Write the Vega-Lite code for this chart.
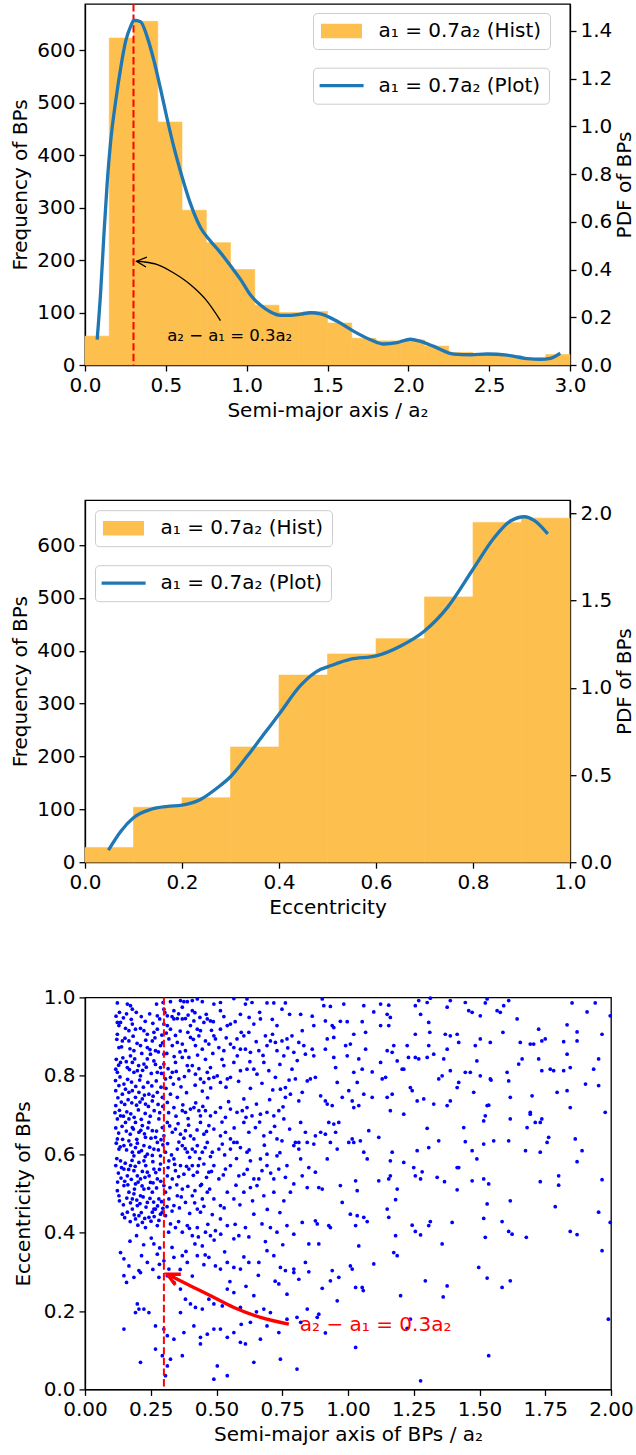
{
"$schema":"https://vega.github.io/schema/vega-lite/v6.json",
"background":"white",
"padding":{"left":10,"top":2,"right":0,"bottom":0},
"config":{
 "font":"DejaVu Sans",
 "view":{"stroke":"#000000","strokeWidth":1.3},
 "axis":{"labelFont":"DejaVu Sans","labelFontSize":20,"labelColor":"#000000","titleFont":"DejaVu Sans","titleFontSize":20,"titleFontWeight":"normal","titleColor":"#000000","domainColor":"#000000","domainWidth":1.3,"tickColor":"#000000","tickWidth":1.3,"tickSize":6,"labelPadding":4,"grid":false,"labelFlush":false,"labelOverlap":false},
 "axisX":{"titlePadding":5},
 "axisY":{"titlePadding":6},
 "legend":{"labelFont":"DejaVu Sans","labelFontSize":20,"labelColor":"#000000","padding":8,"strokeColor":"#cccccc","cornerRadius":4,"fillColor":"rgba(255,255,255,0.8)","labelLimit":400}
},
"datasets":{
 "hist1":[{"x0":0,"x1":0.15,"n":55},{"x0":0.15,"x1":0.3,"n":623},{"x0":0.3,"x1":0.45,"n":655},{"x0":0.45,"x1":0.6,"n":463},{"x0":0.6,"x1":0.75,"n":295},{"x0":0.75,"x1":0.9,"n":233},{"x0":0.9,"x1":1.05,"n":182},{"x0":1.05,"x1":1.2,"n":114},{"x0":1.2,"x1":1.35,"n":100},{"x0":1.35,"x1":1.5,"n":102},{"x0":1.5,"x1":1.65,"n":80},{"x0":1.65,"x1":1.8,"n":51},{"x0":1.8,"x1":1.95,"n":46},{"x0":1.95,"x1":2.1,"n":48},{"x0":2.1,"x1":2.25,"n":36},{"x0":2.25,"x1":2.4,"n":24},{"x0":2.4,"x1":2.55,"n":22},{"x0":2.55,"x1":2.7,"n":18},{"x0":2.7,"x1":2.85,"n":13},{"x0":2.85,"x1":3.0,"n":20}],
 "pdf1":[{"x":0.076,"p":0.113},{"x":0.097,"p":0.308},{"x":0.117,"p":0.546},{"x":0.138,"p":0.771},{"x":0.159,"p":0.939},{"x":0.19,"p":1.107},{"x":0.221,"p":1.246},{"x":0.252,"p":1.358},{"x":0.283,"p":1.42},{"x":0.303,"p":1.445},{"x":0.344,"p":1.439},{"x":0.386,"p":1.372},{"x":0.427,"p":1.274},{"x":0.468,"p":1.155},{"x":0.509,"p":1.029},{"x":0.551,"p":0.91},{"x":0.602,"p":0.785},{"x":0.654,"p":0.673},{"x":0.715,"p":0.575},{"x":0.777,"p":0.519},{"x":0.839,"p":0.47},{"x":0.901,"p":0.415},{"x":0.963,"p":0.358},{"x":1.025,"p":0.292},{"x":1.087,"p":0.25},{"x":1.148,"p":0.222},{"x":1.21,"p":0.208},{"x":1.272,"p":0.208},{"x":1.334,"p":0.213},{"x":1.396,"p":0.219},{"x":1.457,"p":0.214},{"x":1.56,"p":0.183},{"x":1.663,"p":0.141},{"x":1.766,"p":0.106},{"x":1.848,"p":0.088},{"x":1.931,"p":0.094},{"x":2.013,"p":0.108},{"x":2.075,"p":0.099},{"x":2.158,"p":0.078},{"x":2.281,"p":0.046},{"x":2.385,"p":0.043},{"x":2.488,"p":0.046},{"x":2.612,"p":0.041},{"x":2.735,"p":0.027},{"x":2.817,"p":0.024},{"x":2.879,"p":0.028},{"x":2.931,"p":0.046}],
 "vline1":[{"x":0.3}],
 "arrow1":[{"x":0.838,"y":84.7},{"x":0.756,"y":121.4},{"x":0.653,"y":153},{"x":0.549,"y":175.4},{"x":0.447,"y":191.4},{"x":0.364,"y":196.4},{"x":0.319,"y":197.7}],
 "head1":[{"x":0.319,"y":197.7}],
 "text1":[{"x":0.895,"y":56,"t":"a₂ − a₁ = 0.3a₂"}],
 "hist2":[{"x0":0,"x1":0.1,"n":28},{"x0":0.1,"x1":0.2,"n":104},{"x0":0.2,"x1":0.3,"n":122},{"x0":0.3,"x1":0.4,"n":218},{"x0":0.4,"x1":0.5,"n":354},{"x0":0.5,"x1":0.6,"n":394},{"x0":0.6,"x1":0.7,"n":423},{"x0":0.7,"x1":0.8,"n":502},{"x0":0.8,"x1":0.9,"n":643},{"x0":0.9,"x1":1.0,"n":651}],
 "pdf2":[{"x":0.05,"p":0.077},{"x":0.074,"p":0.178},{"x":0.1,"p":0.255},{"x":0.135,"p":0.302},{"x":0.17,"p":0.32},{"x":0.2,"p":0.327},{"x":0.238,"p":0.36},{"x":0.273,"p":0.427},{"x":0.3,"p":0.49},{"x":0.335,"p":0.61},{"x":0.369,"p":0.735},{"x":0.4,"p":0.848},{"x":0.445,"p":1.015},{"x":0.486,"p":1.106},{"x":0.5,"p":1.12},{"x":0.548,"p":1.164},{"x":0.6,"p":1.183},{"x":0.651,"p":1.24},{"x":0.7,"p":1.326},{"x":0.747,"p":1.46},{"x":0.8,"p":1.68},{"x":0.844,"p":1.862},{"x":0.878,"p":1.958},{"x":0.906,"p":1.981},{"x":0.926,"p":1.96},{"x":0.952,"p":1.89}],
 "vline3":[{"x":0.3}],
 "arrow3":[{"x":0.775,"y":0.1666},{"x":0.6675,"y":0.1837},{"x":0.566,"y":0.209},{"x":0.4776,"y":0.2388},{"x":0.4016,"y":0.264},{"x":0.351,"y":0.281},{"x":0.313,"y":0.294}],
 "head3":[{"x":0.313,"y":0.294}],
 "text3":[{"x":1.105,"y":0.165,"t":"a₂ − a₁ = 0.3a₂"}],
 "scatter":[
{"a":0.123,"e":0.986},{"a":0.161,"e":0.983},{"a":0.173,"e":0.979},{"a":0.18,"e":0.97},{"a":0.272,"e":0.983},{"a":0.297,"e":0.987},{"a":0.3,"e":0.97},{"a":0.325,"e":0.989},{"a":0.363,"e":0.992},{"a":0.376,"e":0.989},{"a":0.389,"e":0.989},{"a":0.408,"e":0.992},{"a":0.427,"e":0.996},{"a":0.446,"e":0.989},{"a":0.49,"e":0.983},{"a":0.515,"e":0.987},{"a":0.566,"e":0.997},{"a":0.616,"e":0.996},{"a":0.61,"e":0.983},{"a":0.635,"e":0.987},{"a":0.692,"e":0.986},{"a":0.718,"e":0.986},{"a":0.762,"e":0.986},{"a":0.749,"e":0.97},{"a":0.591,"e":0.957},{"a":0.515,"e":0.966},{"a":0.477,"e":0.94},{"a":0.408,"e":0.966},{"a":0.37,"e":0.975},{"a":0.338,"e":0.966},{"a":0.313,"e":0.953},{"a":0.275,"e":0.953},
{"a":0.123,"e":0.936},{"a":0.129,"e":0.928},{"a":0.135,"e":0.936},{"a":0.154,"e":0.921},{"a":0.167,"e":0.915},{"a":0.18,"e":0.932},{"a":0.192,"e":0.919},{"a":0.211,"e":0.921},{"a":0.224,"e":0.915},{"a":0.237,"e":0.906},{"a":0.262,"e":0.911},{"a":0.275,"e":0.919},{"a":0.3,"e":0.932},{"a":0.313,"e":0.928},{"a":0.325,"e":0.919},{"a":0.338,"e":0.945},{"a":0.351,"e":0.946},{"a":0.37,"e":0.945},{"a":0.382,"e":0.946},{"a":0.401,"e":0.928},{"a":0.414,"e":0.94},{"a":0.427,"e":0.919},{"a":0.439,"e":0.915},{"a":0.452,"e":0.936},{"a":0.465,"e":0.945},{"a":0.49,"e":0.902},{"a":0.515,"e":0.919},{"a":0.541,"e":0.928},{"a":0.553,"e":0.932},{"a":0.578,"e":0.894},{"a":0.604,"e":0.902},{"a":0.623,"e":0.911},{"a":0.642,"e":0.932},{"a":0.667,"e":0.945},{"a":0.686,"e":0.902},{"a":0.705,"e":0.889},{"a":0.724,"e":0.885},{"a":0.73,"e":0.928},{"a":0.749,"e":0.889},{"a":0.768,"e":0.894},{"a":0.787,"e":0.902},{"a":0.813,"e":0.885},
{"a":0.123,"e":0.906},{"a":0.129,"e":0.872},{"a":0.142,"e":0.889},{"a":0.167,"e":0.889},{"a":0.186,"e":0.864},{"a":0.211,"e":0.877},{"a":0.237,"e":0.872},{"a":0.256,"e":0.889},{"a":0.268,"e":0.864},{"a":0.287,"e":0.877},{"a":0.3,"e":0.855},{"a":0.319,"e":0.894},{"a":0.332,"e":0.877},{"a":0.351,"e":0.885},{"a":0.37,"e":0.881},{"a":0.382,"e":0.864},{"a":0.401,"e":0.898},{"a":0.42,"e":0.877},{"a":0.446,"e":0.868},{"a":0.471,"e":0.881},{"a":0.496,"e":0.894},{"a":0.509,"e":0.872},{"a":0.528,"e":0.864},{"a":0.553,"e":0.881},{"a":0.566,"e":0.872},{"a":0.591,"e":0.868},{"a":0.61,"e":0.868},{"a":0.629,"e":0.86},{"a":0.661,"e":0.864},{"a":0.692,"e":0.877},{"a":0.73,"e":0.864},{"a":0.756,"e":0.851},{"a":0.794,"e":0.86},
{"a":0.117,"e":0.817},{"a":0.123,"e":0.809},{"a":0.135,"e":0.834},{"a":0.161,"e":0.821},{"a":0.173,"e":0.851},{"a":0.18,"e":0.834},{"a":0.186,"e":0.809},{"a":0.199,"e":0.813},{"a":0.211,"e":0.8},{"a":0.224,"e":0.83},{"a":0.237,"e":0.843},{"a":0.249,"e":0.855},{"a":0.262,"e":0.838},{"a":0.275,"e":0.809},{"a":0.287,"e":0.821},{"a":0.3,"e":0.83},{"a":0.306,"e":0.792},{"a":0.325,"e":0.796},{"a":0.332,"e":0.809},{"a":0.344,"e":0.834},{"a":0.357,"e":0.792},{"a":0.37,"e":0.847},{"a":0.389,"e":0.826},{"a":0.395,"e":0.813},{"a":0.42,"e":0.804},{"a":0.439,"e":0.792},{"a":0.452,"e":0.783},{"a":0.465,"e":0.809},{"a":0.477,"e":0.821},{"a":0.49,"e":0.796},{"a":0.503,"e":0.8},{"a":0.515,"e":0.783},{"a":0.528,"e":0.826},{"a":0.541,"e":0.792},{"a":0.553,"e":0.796},{"a":0.566,"e":0.834},{"a":0.591,"e":0.813},{"a":0.616,"e":0.817},{"a":0.642,"e":0.817},{"a":0.654,"e":0.804},{"a":0.68,"e":0.834},{"a":0.699,"e":0.813},{"a":0.724,"e":0.796},{"a":0.743,"e":0.766},{"a":0.762,"e":0.77},{"a":0.787,"e":0.817},{"a":0.8,"e":0.792},
{"a":0.117,"e":0.762},{"a":0.129,"e":0.775},{"a":0.142,"e":0.753},{"a":0.154,"e":0.766},{"a":0.167,"e":0.758},{"a":0.18,"e":0.762},{"a":0.192,"e":0.745},{"a":0.205,"e":0.758},{"a":0.218,"e":0.741},{"a":0.23,"e":0.728},{"a":0.243,"e":0.753},{"a":0.256,"e":0.736},{"a":0.275,"e":0.758},{"a":0.294,"e":0.745},{"a":0.313,"e":0.732},{"a":0.325,"e":0.753},{"a":0.338,"e":0.719},{"a":0.351,"e":0.745},{"a":0.37,"e":0.711},{"a":0.382,"e":0.707},{"a":0.401,"e":0.715},{"a":0.414,"e":0.719},{"a":0.433,"e":0.711},{"a":0.439,"e":0.698},{"a":0.458,"e":0.711},{"a":0.477,"e":0.698},{"a":0.496,"e":0.707},{"a":0.515,"e":0.719},{"a":0.534,"e":0.694},{"a":0.553,"e":0.715},{"a":0.578,"e":0.707},{"a":0.598,"e":0.711},{"a":0.616,"e":0.719},{"a":0.635,"e":0.698},{"a":0.667,"e":0.702},{"a":0.692,"e":0.707},{"a":0.718,"e":0.698},{"a":0.737,"e":0.711},{"a":0.762,"e":0.745},{"a":0.781,"e":0.753},{"a":0.813,"e":0.736},
{"a":0.117,"e":0.724},{"a":0.123,"e":0.69},{"a":0.135,"e":0.698},{"a":0.154,"e":0.681},{"a":0.167,"e":0.69},{"a":0.18,"e":0.668},{"a":0.192,"e":0.681},{"a":0.205,"e":0.656},{"a":0.218,"e":0.673},{"a":0.23,"e":0.643},{"a":0.243,"e":0.681},{"a":0.256,"e":0.66},{"a":0.268,"e":0.643},{"a":0.281,"e":0.69},{"a":0.294,"e":0.668},{"a":0.3,"e":0.647},{"a":0.313,"e":0.681},{"a":0.332,"e":0.656},{"a":0.344,"e":0.664},{"a":0.363,"e":0.651},{"a":0.382,"e":0.66},{"a":0.401,"e":0.647},{"a":0.414,"e":0.639},{"a":0.439,"e":0.681},{"a":0.452,"e":0.651},{"a":0.471,"e":0.673},{"a":0.49,"e":0.664},{"a":0.515,"e":0.647},{"a":0.534,"e":0.656},{"a":0.553,"e":0.639},{"a":0.578,"e":0.63},{"a":0.604,"e":0.681},{"a":0.623,"e":0.656},{"a":0.648,"e":0.668},{"a":0.68,"e":0.647},{"a":0.705,"e":0.656},{"a":0.73,"e":0.639},{"a":0.756,"e":0.69},{"a":0.794,"e":0.622},{"a":0.813,"e":0.63},
{"a":0.123,"e":0.639},{"a":0.129,"e":0.613},{"a":0.148,"e":0.622},{"a":0.167,"e":0.634},{"a":0.18,"e":0.605},{"a":0.192,"e":0.617},{"a":0.205,"e":0.605},{"a":0.224,"e":0.622},{"a":0.237,"e":0.6},{"a":0.262,"e":0.613},{"a":0.275,"e":0.63},{"a":0.287,"e":0.596},{"a":0.306,"e":0.605},{"a":0.319,"e":0.583},{"a":0.338,"e":0.588},{"a":0.351,"e":0.613},{"a":0.37,"e":0.622},{"a":0.389,"e":0.605},{"a":0.408,"e":0.613},{"a":0.427,"e":0.622},{"a":0.446,"e":0.605},{"a":0.465,"e":0.63},{"a":0.484,"e":0.605},{"a":0.509,"e":0.613},{"a":0.522,"e":0.626},{"a":0.553,"e":0.613},{"a":0.566,"e":0.63},{"a":0.591,"e":0.617},{"a":0.616,"e":0.605},{"a":0.667,"e":0.588},{"a":0.692,"e":0.6},{"a":0.73,"e":0.596},{"a":0.749,"e":0.634},{"a":0.8,"e":0.63},{"a":0.813,"e":0.613},
{"a":0.117,"e":0.571},{"a":0.135,"e":0.583},{"a":0.148,"e":0.562},{"a":0.161,"e":0.545},{"a":0.173,"e":0.571},{"a":0.186,"e":0.558},{"a":0.199,"e":0.545},{"a":0.211,"e":0.537},{"a":0.224,"e":0.583},{"a":0.237,"e":0.554},{"a":0.249,"e":0.528},{"a":0.262,"e":0.562},{"a":0.275,"e":0.537},{"a":0.287,"e":0.575},{"a":0.3,"e":0.52},{"a":0.313,"e":0.545},{"a":0.332,"e":0.537},{"a":0.344,"e":0.558},{"a":0.363,"e":0.571},{"a":0.376,"e":0.549},{"a":0.395,"e":0.562},{"a":0.408,"e":0.571},{"a":0.427,"e":0.554},{"a":0.439,"e":0.52},{"a":0.452,"e":0.575},{"a":0.471,"e":0.554},{"a":0.49,"e":0.571},{"a":0.509,"e":0.537},{"a":0.534,"e":0.562},{"a":0.553,"e":0.571},{"a":0.585,"e":0.545},{"a":0.604,"e":0.549},{"a":0.629,"e":0.583},{"a":0.642,"e":0.537},{"a":0.673,"e":0.558},{"a":0.692,"e":0.571},{"a":0.718,"e":0.537},{"a":0.737,"e":0.562},{"a":0.768,"e":0.571},{"a":0.794,"e":0.524},
{"a":0.123,"e":0.507},{"a":0.129,"e":0.494},{"a":0.148,"e":0.52},{"a":0.167,"e":0.503},{"a":0.18,"e":0.486},{"a":0.192,"e":0.524},{"a":0.199,"e":0.469},{"a":0.211,"e":0.494},{"a":0.224,"e":0.511},{"a":0.237,"e":0.477},{"a":0.256,"e":0.503},{"a":0.262,"e":0.46},{"a":0.281,"e":0.486},{"a":0.294,"e":0.452},{"a":0.306,"e":0.503},{"a":0.319,"e":0.486},{"a":0.338,"e":0.469},{"a":0.351,"e":0.494},{"a":0.37,"e":0.511},{"a":0.382,"e":0.477},{"a":0.408,"e":0.494},{"a":0.427,"e":0.46},{"a":0.446,"e":0.486},{"a":0.465,"e":0.503},{"a":0.49,"e":0.486},{"a":0.515,"e":0.469},{"a":0.541,"e":0.503},{"a":0.566,"e":0.486},{"a":0.604,"e":0.503},{"a":0.629,"e":0.515},{"a":0.654,"e":0.52},{"a":0.68,"e":0.494},{"a":0.718,"e":0.503},{"a":0.756,"e":0.481},{"a":0.781,"e":0.503},
{"a":0.142,"e":0.447},{"a":0.161,"e":0.452},{"a":0.18,"e":0.46},{"a":0.192,"e":0.435},{"a":0.205,"e":0.443},{"a":0.218,"e":0.426},{"a":0.23,"e":0.413},{"a":0.243,"e":0.439},{"a":0.256,"e":0.452},{"a":0.268,"e":0.46},{"a":0.275,"e":0.418},{"a":0.287,"e":0.447},{"a":0.306,"e":0.443},{"a":0.325,"e":0.422},{"a":0.344,"e":0.413},{"a":0.37,"e":0.401},{"a":0.389,"e":0.418},{"a":0.408,"e":0.392},{"a":0.427,"e":0.413},{"a":0.439,"e":0.452},{"a":0.458,"e":0.401},{"a":0.477,"e":0.392},{"a":0.496,"e":0.405},{"a":0.515,"e":0.435},{"a":0.541,"e":0.418},{"a":0.566,"e":0.384},{"a":0.585,"e":0.392},{"a":0.61,"e":0.413},{"a":0.642,"e":0.447},{"a":0.673,"e":0.422},{"a":0.705,"e":0.413},{"a":0.73,"e":0.401},{"a":0.768,"e":0.418},{"a":0.794,"e":0.396},
{"a":0.135,"e":0.349},{"a":0.167,"e":0.315},{"a":0.205,"e":0.303},{"a":0.237,"e":0.324},{"a":0.262,"e":0.371},{"a":0.275,"e":0.345},{"a":0.3,"e":0.328},{"a":0.319,"e":0.307},{"a":0.338,"e":0.337},{"a":0.37,"e":0.341},{"a":0.389,"e":0.324},{"a":0.427,"e":0.341},{"a":0.446,"e":0.366},{"a":0.471,"e":0.337},{"a":0.496,"e":0.315},{"a":0.515,"e":0.307},{"a":0.541,"e":0.324},{"a":0.566,"e":0.311},{"a":0.591,"e":0.307},{"a":0.623,"e":0.324},{"a":0.661,"e":0.324},{"a":0.692,"e":0.354},{"a":0.718,"e":0.341},{"a":0.743,"e":0.311},{"a":0.762,"e":0.303},{"a":0.794,"e":0.298},
{"a":0.148,"e":0.29},{"a":0.158,"e":0.273},{"a":0.186,"e":0.286},{"a":0.211,"e":0.298},{"a":0.281,"e":0.286},{"a":0.313,"e":0.29},{"a":0.338,"e":0.273},{"a":0.363,"e":0.256},{"a":0.382,"e":0.23},{"a":0.401,"e":0.218},{"a":0.42,"e":0.209},{"a":0.446,"e":0.205},{"a":0.471,"e":0.23},{"a":0.49,"e":0.218},{"a":0.522,"e":0.213},{"a":0.541,"e":0.256},{"a":0.566,"e":0.247},{"a":0.591,"e":0.209},{"a":0.642,"e":0.239},{"a":0.68,"e":0.205},{"a":0.705,"e":0.196},{"a":0.737,"e":0.269},{"a":0.768,"e":0.243},{"a":0.794,"e":0.307},{"a":0.813,"e":0.281},
{"a":0.148,"e":0.154},{"a":0.199,"e":0.218},{"a":0.192,"e":0.196},{"a":0.205,"e":0.205},{"a":0.224,"e":0.205},{"a":0.243,"e":0.196},{"a":0.268,"e":0.162},{"a":0.3,"e":0.154},{"a":0.313,"e":0.137},{"a":0.338,"e":0.128},{"a":0.363,"e":0.196},{"a":0.376,"e":0.145},{"a":0.414,"e":0.162},{"a":0.439,"e":0.133},{"a":0.465,"e":0.141},{"a":0.49,"e":0.154},{"a":0.515,"e":0.154},{"a":0.541,"e":0.133},{"a":0.566,"e":0.145},{"a":0.591,"e":0.12},{"a":0.629,"e":0.171},{"a":0.667,"e":0.128},{"a":0.692,"e":0.162},{"a":0.737,"e":0.145},{"a":0.768,"e":0.179},{"a":0.806,"e":0.184},
{"a":0.211,"e":0.069},{"a":0.268,"e":0.103},{"a":0.294,"e":0.086},{"a":0.313,"e":0.06},{"a":0.325,"e":0.077},{"a":0.37,"e":0.086},{"a":0.439,"e":0.116},{"a":0.49,"e":0.026},{"a":0.503,"e":0.06},{"a":0.541,"e":0.035},{"a":0.61,"e":0.116},{"a":0.642,"e":0.069},{"a":0.743,"e":0.077},{"a":0.806,"e":0.052},{"a":0.306,"e":0.035},
{"a":0.118,"e":0.952},{"a":0.131,"e":0.962},{"a":0.146,"e":0.948},{"a":0.158,"e":0.958},{"a":0.176,"e":0.944},{"a":0.195,"e":0.962},{"a":0.214,"e":0.951},{"a":0.229,"e":0.939},{"a":0.246,"e":0.958},{"a":0.258,"e":0.934},{"a":0.284,"e":0.945},{"a":0.292,"e":0.904},
{"a":0.121,"e":0.893},{"a":0.139,"e":0.874},{"a":0.152,"e":0.896},{"a":0.171,"e":0.869},{"a":0.183,"e":0.901},{"a":0.198,"e":0.883},{"a":0.216,"e":0.857},{"a":0.231,"e":0.891},{"a":0.247,"e":0.867},{"a":0.266,"e":0.897},{"a":0.279,"e":0.861},{"a":0.295,"e":0.884},
{"a":0.119,"e":0.842},{"a":0.128,"e":0.827},{"a":0.144,"e":0.846},{"a":0.157,"e":0.836},{"a":0.169,"e":0.816},{"a":0.189,"e":0.843},{"a":0.204,"e":0.826},{"a":0.219,"e":0.814},{"a":0.233,"e":0.822},{"a":0.252,"e":0.806},{"a":0.268,"e":0.829},{"a":0.291,"e":0.806},
{"a":0.116,"e":0.788},{"a":0.133,"e":0.797},{"a":0.148,"e":0.779},{"a":0.162,"e":0.791},{"a":0.177,"e":0.784},{"a":0.193,"e":0.773},{"a":0.208,"e":0.789},{"a":0.222,"e":0.771},{"a":0.239,"e":0.783},{"a":0.254,"e":0.774},{"a":0.271,"e":0.787},{"a":0.289,"e":0.771},
{"a":0.125,"e":0.744},{"a":0.138,"e":0.733},{"a":0.151,"e":0.727},{"a":0.164,"e":0.739},{"a":0.178,"e":0.731},{"a":0.196,"e":0.725},{"a":0.209,"e":0.733},{"a":0.226,"e":0.751},{"a":0.241,"e":0.722},{"a":0.259,"e":0.748},{"a":0.278,"e":0.727},{"a":0.296,"e":0.722},
{"a":0.114,"e":0.706},{"a":0.131,"e":0.712},{"a":0.146,"e":0.697},{"a":0.159,"e":0.708},{"a":0.174,"e":0.703},{"a":0.187,"e":0.694},{"a":0.203,"e":0.713},{"a":0.214,"e":0.689},{"a":0.229,"e":0.704},{"a":0.248,"e":0.697},{"a":0.263,"e":0.711},{"a":0.284,"e":0.706},
{"a":0.117,"e":0.667},{"a":0.128,"e":0.654},{"a":0.141,"e":0.671},{"a":0.157,"e":0.659},{"a":0.172,"e":0.651},{"a":0.184,"e":0.664},{"a":0.197,"e":0.638},{"a":0.212,"e":0.661},{"a":0.226,"e":0.652},{"a":0.239,"e":0.667},{"a":0.251,"e":0.641},{"a":0.272,"e":0.659},{"a":0.289,"e":0.637},
{"a":0.119,"e":0.628},{"a":0.134,"e":0.619},{"a":0.143,"e":0.638},{"a":0.158,"e":0.611},{"a":0.174,"e":0.624},{"a":0.186,"e":0.596},{"a":0.199,"e":0.628},{"a":0.215,"e":0.609},{"a":0.229,"e":0.594},{"a":0.246,"e":0.618},{"a":0.256,"e":0.597},{"a":0.279,"e":0.611},{"a":0.296,"e":0.624},
{"a":0.121,"e":0.589},{"a":0.127,"e":0.552},{"a":0.139,"e":0.566},{"a":0.153,"e":0.577},{"a":0.166,"e":0.561},{"a":0.179,"e":0.584},{"a":0.191,"e":0.569},{"a":0.205,"e":0.579},{"a":0.218,"e":0.556},{"a":0.231,"e":0.571},{"a":0.244,"e":0.545},{"a":0.258,"e":0.581},{"a":0.269,"e":0.553},{"a":0.283,"e":0.561},
{"a":0.124,"e":0.529},{"a":0.137,"e":0.539},{"a":0.151,"e":0.531},{"a":0.163,"e":0.522},{"a":0.176,"e":0.536},{"a":0.188,"e":0.511},{"a":0.202,"e":0.529},{"a":0.217,"e":0.519},{"a":0.228,"e":0.541},{"a":0.242,"e":0.513},{"a":0.259,"e":0.527},{"a":0.272,"e":0.514},{"a":0.288,"e":0.531},
{"a":0.131,"e":0.481},{"a":0.146,"e":0.471},{"a":0.159,"e":0.488},{"a":0.173,"e":0.476},{"a":0.186,"e":0.499},{"a":0.197,"e":0.483},{"a":0.209,"e":0.474},{"a":0.221,"e":0.491},{"a":0.232,"e":0.465},{"a":0.247,"e":0.487},{"a":0.261,"e":0.478},{"a":0.276,"e":0.468},{"a":0.291,"e":0.479},
{"a":0.151,"e":0.438},{"a":0.172,"e":0.428},{"a":0.187,"e":0.445},{"a":0.201,"e":0.419},{"a":0.214,"e":0.451},{"a":0.227,"e":0.436},{"a":0.251,"e":0.429},{"a":0.263,"e":0.441},{"a":0.281,"e":0.431},{"a":0.296,"e":0.462},
{"a":0.171,"e":0.378},{"a":0.196,"e":0.392},{"a":0.223,"e":0.369},{"a":0.252,"e":0.386},{"a":0.284,"e":0.361},{"a":0.148,"e":0.333},{"a":0.215,"e":0.341},{"a":0.258,"e":0.306},{"a":0.283,"e":0.319},
{"a":0.304,"e":0.961},{"a":0.331,"e":0.951},{"a":0.356,"e":0.958},{"a":0.392,"e":0.955},{"a":0.418,"e":0.961},{"a":0.437,"e":0.949},{"a":0.461,"e":0.957},{"a":0.488,"e":0.938},
{"a":0.309,"e":0.909},{"a":0.344,"e":0.903},{"a":0.362,"e":0.914},{"a":0.391,"e":0.911},{"a":0.412,"e":0.893},{"a":0.433,"e":0.902},{"a":0.458,"e":0.889},{"a":0.481,"e":0.916},
{"a":0.311,"e":0.857},{"a":0.339,"e":0.849},{"a":0.361,"e":0.861},{"a":0.395,"e":0.847},{"a":0.428,"e":0.853},{"a":0.458,"e":0.842},{"a":0.486,"e":0.857},
{"a":0.316,"e":0.818},{"a":0.347,"e":0.811},{"a":0.378,"e":0.798},{"a":0.408,"e":0.826},{"a":0.433,"e":0.818},{"a":0.471,"e":0.793},
{"a":0.308,"e":0.768},{"a":0.336,"e":0.779},{"a":0.365,"e":0.772},{"a":0.386,"e":0.757},{"a":0.419,"e":0.776},{"a":0.446,"e":0.761},{"a":0.478,"e":0.769},
{"a":0.318,"e":0.706},{"a":0.346,"e":0.697},{"a":0.372,"e":0.726},{"a":0.392,"e":0.691},{"a":0.421,"e":0.731},{"a":0.448,"e":0.722},{"a":0.466,"e":0.744},
{"a":0.322,"e":0.672},{"a":0.354,"e":0.678},{"a":0.376,"e":0.641},{"a":0.394,"e":0.674},{"a":0.426,"e":0.662},{"a":0.462,"e":0.658},
{"a":0.314,"e":0.627},{"a":0.329,"e":0.598},{"a":0.357,"e":0.631},{"a":0.381,"e":0.614},{"a":0.398,"e":0.592},{"a":0.419,"e":0.606},{"a":0.436,"e":0.589},{"a":0.457,"e":0.617},{"a":0.477,"e":0.594},
{"a":0.316,"e":0.566},{"a":0.341,"e":0.574},{"a":0.356,"e":0.543},{"a":0.386,"e":0.569},{"a":0.412,"e":0.546},{"a":0.431,"e":0.571},{"a":0.462,"e":0.541},{"a":0.481,"e":0.556},
{"a":0.323,"e":0.515},{"a":0.349,"e":0.522},{"a":0.366,"e":0.491},{"a":0.391,"e":0.518},{"a":0.418,"e":0.507},{"a":0.443,"e":0.523},{"a":0.474,"e":0.511},
{"a":0.312,"e":0.466},{"a":0.331,"e":0.455},{"a":0.359,"e":0.463},{"a":0.398,"e":0.449},{"a":0.417,"e":0.476},{"a":0.452,"e":0.467},{"a":0.484,"e":0.446},
{"a":0.318,"e":0.401},{"a":0.356,"e":0.428},{"a":0.397,"e":0.411},{"a":0.431,"e":0.389},{"a":0.467,"e":0.421},{"a":0.491,"e":0.381},
{"a":0.331,"e":0.362},{"a":0.384,"e":0.352},{"a":0.418,"e":0.371},{"a":0.457,"e":0.343},{"a":0.362,"e":0.306},{"a":0.408,"e":0.289},{"a":0.452,"e":0.318},
{"a":0.528,"e":0.951},{"a":0.571,"e":0.938},{"a":0.624,"e":0.949},{"a":0.664,"e":0.962},{"a":0.712,"e":0.944},{"a":0.778,"e":0.957},
{"a":0.537,"e":0.897},{"a":0.594,"e":0.911},{"a":0.651,"e":0.887},{"a":0.713,"e":0.906},{"a":0.771,"e":0.871},
{"a":0.521,"e":0.842},{"a":0.579,"e":0.851},{"a":0.627,"e":0.836},{"a":0.677,"e":0.852},{"a":0.741,"e":0.829},{"a":0.807,"e":0.839},
{"a":0.536,"e":0.771},{"a":0.584,"e":0.786},{"a":0.629,"e":0.768},{"a":0.673,"e":0.781},{"a":0.714,"e":0.764},{"a":0.776,"e":0.789},
{"a":0.546,"e":0.734},{"a":0.604,"e":0.741},{"a":0.652,"e":0.728},{"a":0.702,"e":0.739},{"a":0.753,"e":0.721},
{"a":0.521,"e":0.682},{"a":0.567,"e":0.667},{"a":0.612,"e":0.694},{"a":0.664,"e":0.682},{"a":0.721,"e":0.671},{"a":0.778,"e":0.664},
{"a":0.531,"e":0.598},{"a":0.576,"e":0.589},{"a":0.624,"e":0.611},{"a":0.682,"e":0.623},{"a":0.741,"e":0.604},
{"a":0.526,"e":0.547},{"a":0.574,"e":0.521},{"a":0.617,"e":0.561},{"a":0.661,"e":0.537},{"a":0.706,"e":0.552},{"a":0.762,"e":0.541},
{"a":0.529,"e":0.463},{"a":0.589,"e":0.471},{"a":0.637,"e":0.481},{"a":0.693,"e":0.459},{"a":0.741,"e":0.451},
{"a":0.516,"e":0.396},{"a":0.571,"e":0.421},{"a":0.623,"e":0.389},{"a":0.686,"e":0.377},{"a":0.752,"e":0.369},
{"a":0.531,"e":0.351},{"a":0.604,"e":0.338},{"a":0.659,"e":0.291},{"a":0.723,"e":0.276},{"a":0.551,"e":0.275},{"a":0.612,"e":0.263},{"a":0.652,"e":0.198},{"a":0.594,"e":0.166},
{"a":0.902,"e":0.996},{"a":0.908,"e":0.979},{"a":0.933,"e":0.977},{"a":0.984,"e":0.983},{"a":1.06,"e":0.979},{"a":1.098,"e":0.963},{"a":1.124,"e":0.983},{"a":1.149,"e":0.957},{"a":1.155,"e":0.98},{"a":1.256,"e":0.979},{"a":1.269,"e":0.992},{"a":1.301,"e":0.987},{"a":1.313,"e":0.998},{"a":1.377,"e":0.975},{"a":1.389,"e":0.992},{"a":1.446,"e":0.987},{"a":1.459,"e":0.966},{"a":1.472,"e":0.962},{"a":1.503,"e":0.953},{"a":1.522,"e":0.986},{"a":1.529,"e":0.996},{"a":1.567,"e":0.966},{"a":1.579,"e":0.962},{"a":1.592,"e":0.979},{"a":1.611,"e":0.992},{"a":1.643,"e":0.945},{"a":1.852,"e":0.986},{"a":1.909,"e":0.963},{"a":1.94,"e":0.986},{"a":1.997,"e":0.953},{"a":0.82,"e":0.957},{"a":0.826,"e":0.915},{"a":0.864,"e":0.952},{"a":0.87,"e":0.928},{"a":0.914,"e":0.94},{"a":0.94,"e":0.928},{"a":0.946,"e":0.923},{"a":0.971,"e":0.939},{"a":0.997,"e":0.938},{"a":1.022,"e":0.906},{"a":1.054,"e":0.938},{"a":1.067,"e":0.911},{"a":1.124,"e":0.928},{"a":1.155,"e":0.928},{"a":1.161,"e":0.949},{"a":1.256,"e":0.906},{"a":1.276,"e":0.957},{"a":1.307,"e":0.936},{"a":1.311,"e":0.911},{"a":1.37,"e":0.906},{"a":1.389,"e":0.902},{"a":1.415,"e":0.906},{"a":1.503,"e":0.894},{"a":1.541,"e":0.885},{"a":1.589,"e":0.911},{"a":1.655,"e":0.885},{"a":1.693,"e":0.881},{"a":1.725,"e":0.919},{"a":1.737,"e":0.889},{"a":1.75,"e":0.894},{"a":1.82,"e":0.887},{"a":1.833,"e":0.93},{"a":1.871,"e":0.912},{"a":1.871,"e":0.889},{"a":1.966,"e":0.906},
{"a":0.832,"e":0.877},{"a":0.864,"e":0.868},{"a":0.87,"e":0.851},{"a":0.838,"e":0.855},{"a":0.914,"e":0.868},{"a":0.921,"e":0.894},{"a":0.946,"e":0.898},{"a":0.946,"e":0.847},{"a":0.953,"e":0.821},{"a":0.991,"e":0.877},{"a":0.997,"e":0.851},{"a":1.009,"e":0.881},{"a":1.022,"e":0.809},{"a":1.041,"e":0.843},{"a":1.054,"e":0.817},{"a":1.067,"e":0.868},{"a":1.092,"e":0.81},{"a":1.124,"e":0.834},{"a":1.149,"e":0.864},{"a":1.168,"e":0.86},{"a":1.174,"e":0.877},{"a":1.187,"e":0.838},{"a":1.212,"e":0.817},{"a":1.225,"e":0.877},{"a":1.23,"e":0.847},{"a":1.256,"e":0.847},{"a":1.269,"e":0.843},{"a":1.301,"e":0.847},{"a":1.307,"e":0.877},{"a":1.326,"e":0.855},{"a":1.364,"e":0.843},{"a":1.377,"e":0.868},{"a":1.389,"e":0.813},{"a":1.421,"e":0.885},{"a":1.446,"e":0.809},{"a":1.465,"e":0.809},{"a":1.484,"e":0.877},{"a":1.49,"e":0.838},{"a":1.503,"e":0.8},{"a":1.541,"e":0.792},{"a":1.605,"e":0.809},{"a":1.611,"e":0.787},{"a":1.649,"e":0.83},{"a":1.662,"e":0.843},{"a":1.706,"e":0.881},{"a":1.725,"e":0.843},{"a":1.737,"e":0.813},{"a":1.769,"e":0.817},{"a":1.782,"e":0.813},{"a":1.82,"e":0.813},{"a":1.833,"e":0.855},{"a":1.845,"e":0.821},{"a":1.934,"e":0.817},{"a":1.953,"e":0.843},
{"a":0.826,"e":0.758},{"a":0.857,"e":0.792},{"a":0.876,"e":0.796},{"a":0.845,"e":0.787},{"a":0.896,"e":0.749},{"a":0.914,"e":0.736},{"a":0.921,"e":0.728},{"a":0.94,"e":0.724},{"a":0.959,"e":0.783},{"a":0.978,"e":0.745},{"a":1.003,"e":0.762},{"a":1.016,"e":0.736},{"a":1.022,"e":0.719},{"a":1.035,"e":0.783},{"a":1.041,"e":0.724},{"a":1.06,"e":0.753},{"a":1.092,"e":0.745},{"a":1.13,"e":0.792},{"a":1.143,"e":0.796},{"a":1.149,"e":0.745},{"a":1.161,"e":0.711},{"a":1.168,"e":0.753},{"a":1.206,"e":0.817},{"a":1.212,"e":0.702},{"a":1.237,"e":0.77},{"a":1.244,"e":0.762},{"a":1.263,"e":0.736},{"a":1.288,"e":0.741},{"a":1.326,"e":0.728},{"a":1.345,"e":0.792},{"a":1.358,"e":0.8},{"a":1.377,"e":0.724},{"a":1.389,"e":0.736},{"a":1.415,"e":0.77},{"a":1.421,"e":0.783},{"a":1.478,"e":0.758},{"a":1.516,"e":0.685},{"a":1.522,"e":0.698},{"a":1.529,"e":0.724},{"a":1.535,"e":0.725},{"a":1.544,"e":0.789},{"a":1.617,"e":0.745},{"a":1.7,"e":0.749},{"a":1.693,"e":0.707},{"a":1.712,"e":0.681},{"a":1.737,"e":0.69},{"a":1.795,"e":0.758},{"a":1.833,"e":0.762},{"a":1.845,"e":0.719},{"a":1.903,"e":0.779},{"a":1.953,"e":0.775},{"a":1.978,"e":0.707},
{"a":0.82,"e":0.681},{"a":0.838,"e":0.656},{"a":0.845,"e":0.63},{"a":0.87,"e":0.626},{"a":0.876,"e":0.647},{"a":0.896,"e":0.656},{"a":0.914,"e":0.651},{"a":0.927,"e":0.681},{"a":0.946,"e":0.677},{"a":0.965,"e":0.681},{"a":0.953,"e":0.656},{"a":0.921,"e":0.588},{"a":0.933,"e":0.63},{"a":0.959,"e":0.613},{"a":1.003,"e":0.63},{"a":1.016,"e":0.639},{"a":1.022,"e":0.63},{"a":1.047,"e":0.634},{"a":1.06,"e":0.605},{"a":1.073,"e":0.588},{"a":1.079,"e":0.66},{"a":1.117,"e":0.643},{"a":1.168,"e":0.605},{"a":1.161,"e":0.583},{"a":1.212,"e":0.579},{"a":1.263,"e":0.609},{"a":1.301,"e":0.666},{"a":1.307,"e":0.617},{"a":1.345,"e":0.634},{"a":1.415,"e":0.566},{"a":1.44,"e":0.668},{"a":1.446,"e":0.632},{"a":1.472,"e":0.609},{"a":1.49,"e":0.588},{"a":1.516,"e":0.626},{"a":1.554,"e":0.634},{"a":1.611,"e":0.634},{"a":1.617,"e":0.69},{"a":1.675,"e":0.609},{"a":1.681,"e":0.668},{"a":1.693,"e":0.702},{"a":1.731,"e":0.605},{"a":1.731,"e":0.681},{"a":1.757,"e":0.63},{"a":1.763,"e":0.643},{"a":1.864,"e":0.639},{"a":1.89,"e":0.609},{"a":1.871,"e":0.581},{"a":0.82,"e":0.588},
{"a":0.826,"e":0.545},{"a":0.851,"e":0.566},{"a":0.876,"e":0.554},{"a":0.845,"e":0.515},{"a":0.889,"e":0.515},{"a":0.902,"e":0.511},{"a":0.971,"e":0.52},{"a":0.978,"e":0.477},{"a":1.029,"e":0.532},{"a":1.035,"e":0.507},{"a":1.117,"e":0.532},{"a":1.155,"e":0.537},{"a":1.161,"e":0.545},{"a":1.187,"e":0.511},{"a":1.181,"e":0.484},{"a":1.25,"e":0.566},{"a":1.256,"e":0.545},{"a":1.276,"e":0.537},{"a":1.282,"e":0.555},{"a":1.339,"e":0.541},{"a":1.367,"e":0.53},{"a":1.421,"e":0.566},{"a":1.415,"e":0.509},{"a":1.472,"e":0.532},{"a":1.516,"e":0.537},{"a":1.535,"e":0.524},{"a":1.529,"e":0.473},{"a":1.617,"e":0.481},{"a":1.731,"e":0.53},{"a":1.788,"e":0.466},{"a":1.801,"e":0.545},{"a":1.801,"e":0.521},{"a":1.966,"e":0.535},{"a":1.953,"e":0.452},
{"a":0.826,"e":0.426},{"a":0.851,"e":0.371},{"a":0.876,"e":0.43},{"a":0.883,"e":0.422},{"a":0.889,"e":0.371},{"a":0.927,"e":0.418},{"a":0.933,"e":0.413},{"a":1.009,"e":0.447},{"a":1.035,"e":0.443},{"a":1.029,"e":0.418},{"a":1.041,"e":0.366},{"a":1.06,"e":0.439},{"a":1.073,"e":0.428},{"a":1.149,"e":0.46},{"a":1.155,"e":0.439},{"a":1.181,"e":0.392},{"a":1.187,"e":0.341},{"a":1.174,"e":0.349},{"a":1.244,"e":0.419},{"a":1.256,"e":0.403},{"a":1.276,"e":0.394},{"a":1.307,"e":0.418},{"a":1.313,"e":0.428},{"a":1.358,"e":0.371},{"a":1.396,"e":0.426},{"a":1.516,"e":0.436},{"a":1.522,"e":0.388},{"a":1.586,"e":0.428},{"a":1.611,"e":0.403},{"a":1.624,"e":0.396},{"a":1.678,"e":0.388},{"a":1.845,"e":0.403},{"a":1.871,"e":0.395},{"a":1.966,"e":0.354},{"a":1.997,"e":0.426},{"a":0.838,"e":0.324},{"a":0.851,"e":0.3},{"a":0.94,"e":0.303},{"a":0.933,"e":0.277},{"a":0.965,"e":0.286},{"a":1.009,"e":0.315},{"a":1.016,"e":0.307},{"a":1.098,"e":0.32},{"a":1.294,"e":0.277},{"a":1.377,"e":0.264},{"a":1.362,"e":0.236},{"a":1.497,"e":0.311},{"a":1.529,"e":0.284},{"a":1.586,"e":0.26},{"a":1.617,"e":0.277},{"a":1.99,"e":0.179},
{"a":0.902,"e":0.258},{"a":0.959,"e":0.226},{"a":1.029,"e":0.26},{"a":1.054,"e":0.26},{"a":1.058,"e":0.252},{"a":1.2,"e":0.239},{"a":0.845,"e":0.205},{"a":0.889,"e":0.192},{"a":0.883,"e":0.184},{"a":0.914,"e":0.144},{"a":0.82,"e":0.171},{"a":1.029,"e":0.107},{"a":1.237,"e":0.179},{"a":1.225,"e":0.156},{"a":1.535,"e":0.086},{"a":1.276,"e":0.022}
 ]
},
"vconcat":[
  {"width":485,"height":361,
   "layer":[
    {"layer":[
     {"data":{"name":"hist1"},"mark":{"type":"bar","stroke":"#fdbf4e","strokeWidth":0.6},
      "encoding":{
       "x":{"field":"x0","type":"quantitative","scale":{"domain":[0,3],"nice":false,"zero":false},"axis":{"values":[0,0.5,1,1.5,2,2.5,3],"format":".1f"},"title":"Semi-major axis / a₂"},
       "x2":{"field":"x1"},
       "y":{"field":"n","type":"quantitative","scale":{"domain":[0,688],"nice":false},"axis":{"orient":"left","values":[0,100,200,300,400,500,600]},"title":"Frequency of BPs"},
       "y2":{"datum":0},
       "fill":{"datum":"a₁ = 0.7a₂ (Hist)","type":"nominal","scale":{"range":["#fdbf4e"]},
        "legend":{"orient":"none","legendX":228,"legendY":9,"title":null,"symbolType":"M-2.05,-0.72H2.05V0.72H-2.05Z","symbolSize":400,"symbolStrokeWidth":0,"symbolOffset":10.5,"labelOffset":27,"symbolOpacity":1}}
      }},
     {"data":{"name":"vline1"},"mark":{"type":"rule","color":"#ff0000","strokeWidth":2,"strokeDash":[7.4,3.2]},
      "encoding":{"x":{"field":"x","type":"quantitative","scale":{"domain":[0,3],"nice":false,"zero":false},"title":"Semi-major axis / a₂"}}},
     {"data":{"name":"arrow1"},"mark":{"type":"line","color":"#000000","strokeWidth":1.3,"interpolate":"monotone"},
      "encoding":{"x":{"field":"x","type":"quantitative","scale":{"domain":[0,3],"nice":false,"zero":false},"title":"Semi-major axis / a₂"},
                  "y":{"field":"y","type":"quantitative","scale":{"domain":[0,688],"nice":false},"title":"Frequency of BPs"}}},
     {"data":{"name":"head1"},"mark":{"type":"point","shape":"M1.1,-0.55L0,0L1.1,0.55","filled":false,"size":324,"angle":5,"color":"#000000","strokeWidth":1.3,"opacity":1},
      "encoding":{"x":{"field":"x","type":"quantitative","scale":{"domain":[0,3],"nice":false,"zero":false},"title":"Semi-major axis / a₂"},
                  "y":{"field":"y","type":"quantitative","scale":{"domain":[0,688],"nice":false},"title":"Frequency of BPs"}}},
     {"data":{"name":"text1"},"mark":{"type":"text","font":"DejaVu Sans","fontSize":16.5,"align":"center","baseline":"middle","color":"#000000"},
      "encoding":{"x":{"field":"x","type":"quantitative","scale":{"domain":[0,3],"nice":false,"zero":false},"title":"Semi-major axis / a₂"},
                  "y":{"field":"y","type":"quantitative","scale":{"domain":[0,688],"nice":false},"title":"Frequency of BPs"},
                  "text":{"field":"t"}}}
    ]},
    {"data":{"name":"pdf1"},"mark":{"type":"line","strokeWidth":3.3,"interpolate":"monotone","strokeCap":"square"},
     "encoding":{
      "x":{"field":"x","type":"quantitative","scale":{"domain":[0,3],"nice":false,"zero":false},"title":"Semi-major axis / a₂"},
      "y":{"field":"p","type":"quantitative","scale":{"domain":[0,1.513],"nice":false},"axis":{"orient":"right","values":[0,0.2,0.4,0.6,0.8,1,1.2,1.4],"format":".1f","titleAngle":270,"titleBaseline":"top","titlePadding":3},"title":"PDF of BPs"},
      "stroke":{"datum":"a₁ = 0.7a₂ (Plot)","type":"nominal","scale":{"range":["#1f77b4"]},
       "legend":{"orient":"none","legendX":228,"legendY":63.7,"title":null,"symbolType":"M-2.75,0H2.75","symbolSize":256,"symbolStrokeWidth":3.3,"symbolOffset":10.6,"labelOffset":27}}
     }}
   ],
   "resolve":{"scale":{"y":"independent"}}
  },
  {"width":485,"height":362,
   "layer":[
    {"data":{"name":"hist2"},"mark":{"type":"bar","stroke":"#fdbf4e","strokeWidth":0.6},
     "encoding":{
      "x":{"field":"x0","type":"quantitative","scale":{"domain":[0,1],"nice":false,"zero":false},"axis":{"values":[0,0.2,0.4,0.6,0.8,1],"format":".1f"},"title":"Eccentricity"},
      "x2":{"field":"x1"},
      "y":{"field":"n","type":"quantitative","scale":{"domain":[0,685],"nice":false},"axis":{"orient":"left","values":[0,100,200,300,400,500,600]},"title":"Frequency of BPs"},
      "y2":{"datum":0},
      "fill":{"datum":"a₁ = 0.7a₂ (Hist)","type":"nominal","scale":{"range":["#fdbf4e"]},
       "legend":{"orient":"none","legendX":10,"legendY":10,"title":null,"symbolType":"M-2.05,-0.72H2.05V0.72H-2.05Z","symbolSize":400,"symbolStrokeWidth":0,"symbolOffset":10.5,"labelOffset":27,"symbolOpacity":1}}
     }},
    {"data":{"name":"pdf2"},"mark":{"type":"line","strokeWidth":3.3,"interpolate":"monotone","strokeCap":"square"},
     "encoding":{
      "x":{"field":"x","type":"quantitative","scale":{"domain":[0,1],"nice":false,"zero":false},"title":"Eccentricity"},
      "y":{"field":"p","type":"quantitative","scale":{"domain":[0,2.076],"nice":false},"axis":{"orient":"right","values":[0,0.5,1,1.5,2],"format":".1f","titleAngle":270,"titleBaseline":"top","titlePadding":3},"title":"PDF of BPs"},
      "stroke":{"datum":"a₁ = 0.7a₂ (Plot)","type":"nominal","scale":{"range":["#1f77b4"]},
       "legend":{"orient":"none","legendX":10,"legendY":65,"title":null,"symbolType":"M-2.75,0H2.75","symbolSize":256,"symbolStrokeWidth":3.3,"symbolOffset":10.6,"labelOffset":27}}
     }}
   ],
   "resolve":{"scale":{"y":"independent"}}
  },
 {"width":526,"height":392,
  "layer":[
   {"data":{"name":"scatter"},"mark":{"type":"circle","size":14,"color":"#0000ff","opacity":1},
    "encoding":{
     "x":{"field":"a","type":"quantitative","scale":{"domain":[0,2],"nice":false,"zero":false},"axis":{"values":[0,0.25,0.5,0.75,1,1.25,1.5,1.75,2],"format":".2f"},"title":"Semi-major axis of BPs / a₂"},
     "y":{"field":"e","type":"quantitative","scale":{"domain":[0,1],"nice":false},"axis":{"values":[0,0.2,0.4,0.6,0.8,1],"format":".1f","titlePadding":10},"title":"Eccentricity of BPs"}
    }},
   {"data":{"name":"vline3"},"mark":{"type":"rule","color":"#ff0000","strokeWidth":2,"strokeDash":[7.4,3.2]},
    "encoding":{"x":{"field":"x","type":"quantitative","scale":{"domain":[0,2],"nice":false,"zero":false},"title":"Semi-major axis of BPs / a₂"}}},
   {"data":{"name":"arrow3"},"mark":{"type":"line","color":"#ff0000","strokeWidth":3.3,"interpolate":"monotone"},
    "encoding":{"x":{"field":"x","type":"quantitative","scale":{"domain":[0,2],"nice":false,"zero":false},"title":"Semi-major axis of BPs / a₂"},
                "y":{"field":"y","type":"quantitative","scale":{"domain":[0,1],"nice":false},"title":"Eccentricity of BPs"}}},
   {"data":{"name":"head3"},"mark":{"type":"point","shape":"M1.1,-0.55L0,0L1.1,0.55","filled":false,"size":484,"angle":27,"color":"#ff0000","strokeWidth":3.3,"opacity":1},
    "encoding":{"x":{"field":"x","type":"quantitative","scale":{"domain":[0,2],"nice":false,"zero":false},"title":"Semi-major axis of BPs / a₂"},
                "y":{"field":"y","type":"quantitative","scale":{"domain":[0,1],"nice":false},"title":"Eccentricity of BPs"}}},
   {"data":{"name":"text3"},"mark":{"type":"text","font":"DejaVu Sans","fontSize":20,"align":"center","baseline":"middle","color":"#ff0000"},
    "encoding":{"x":{"field":"x","type":"quantitative","scale":{"domain":[0,2],"nice":false,"zero":false},"title":"Semi-major axis of BPs / a₂"},
                "y":{"field":"y","type":"quantitative","scale":{"domain":[0,1],"nice":false},"title":"Eccentricity of BPs"},
                "text":{"field":"t"}}}
  ]
 }
],
"spacing":135.2,
"bounds":"flush",
"resolve":{"scale":{"fill":"independent","stroke":"independent"}}
}
